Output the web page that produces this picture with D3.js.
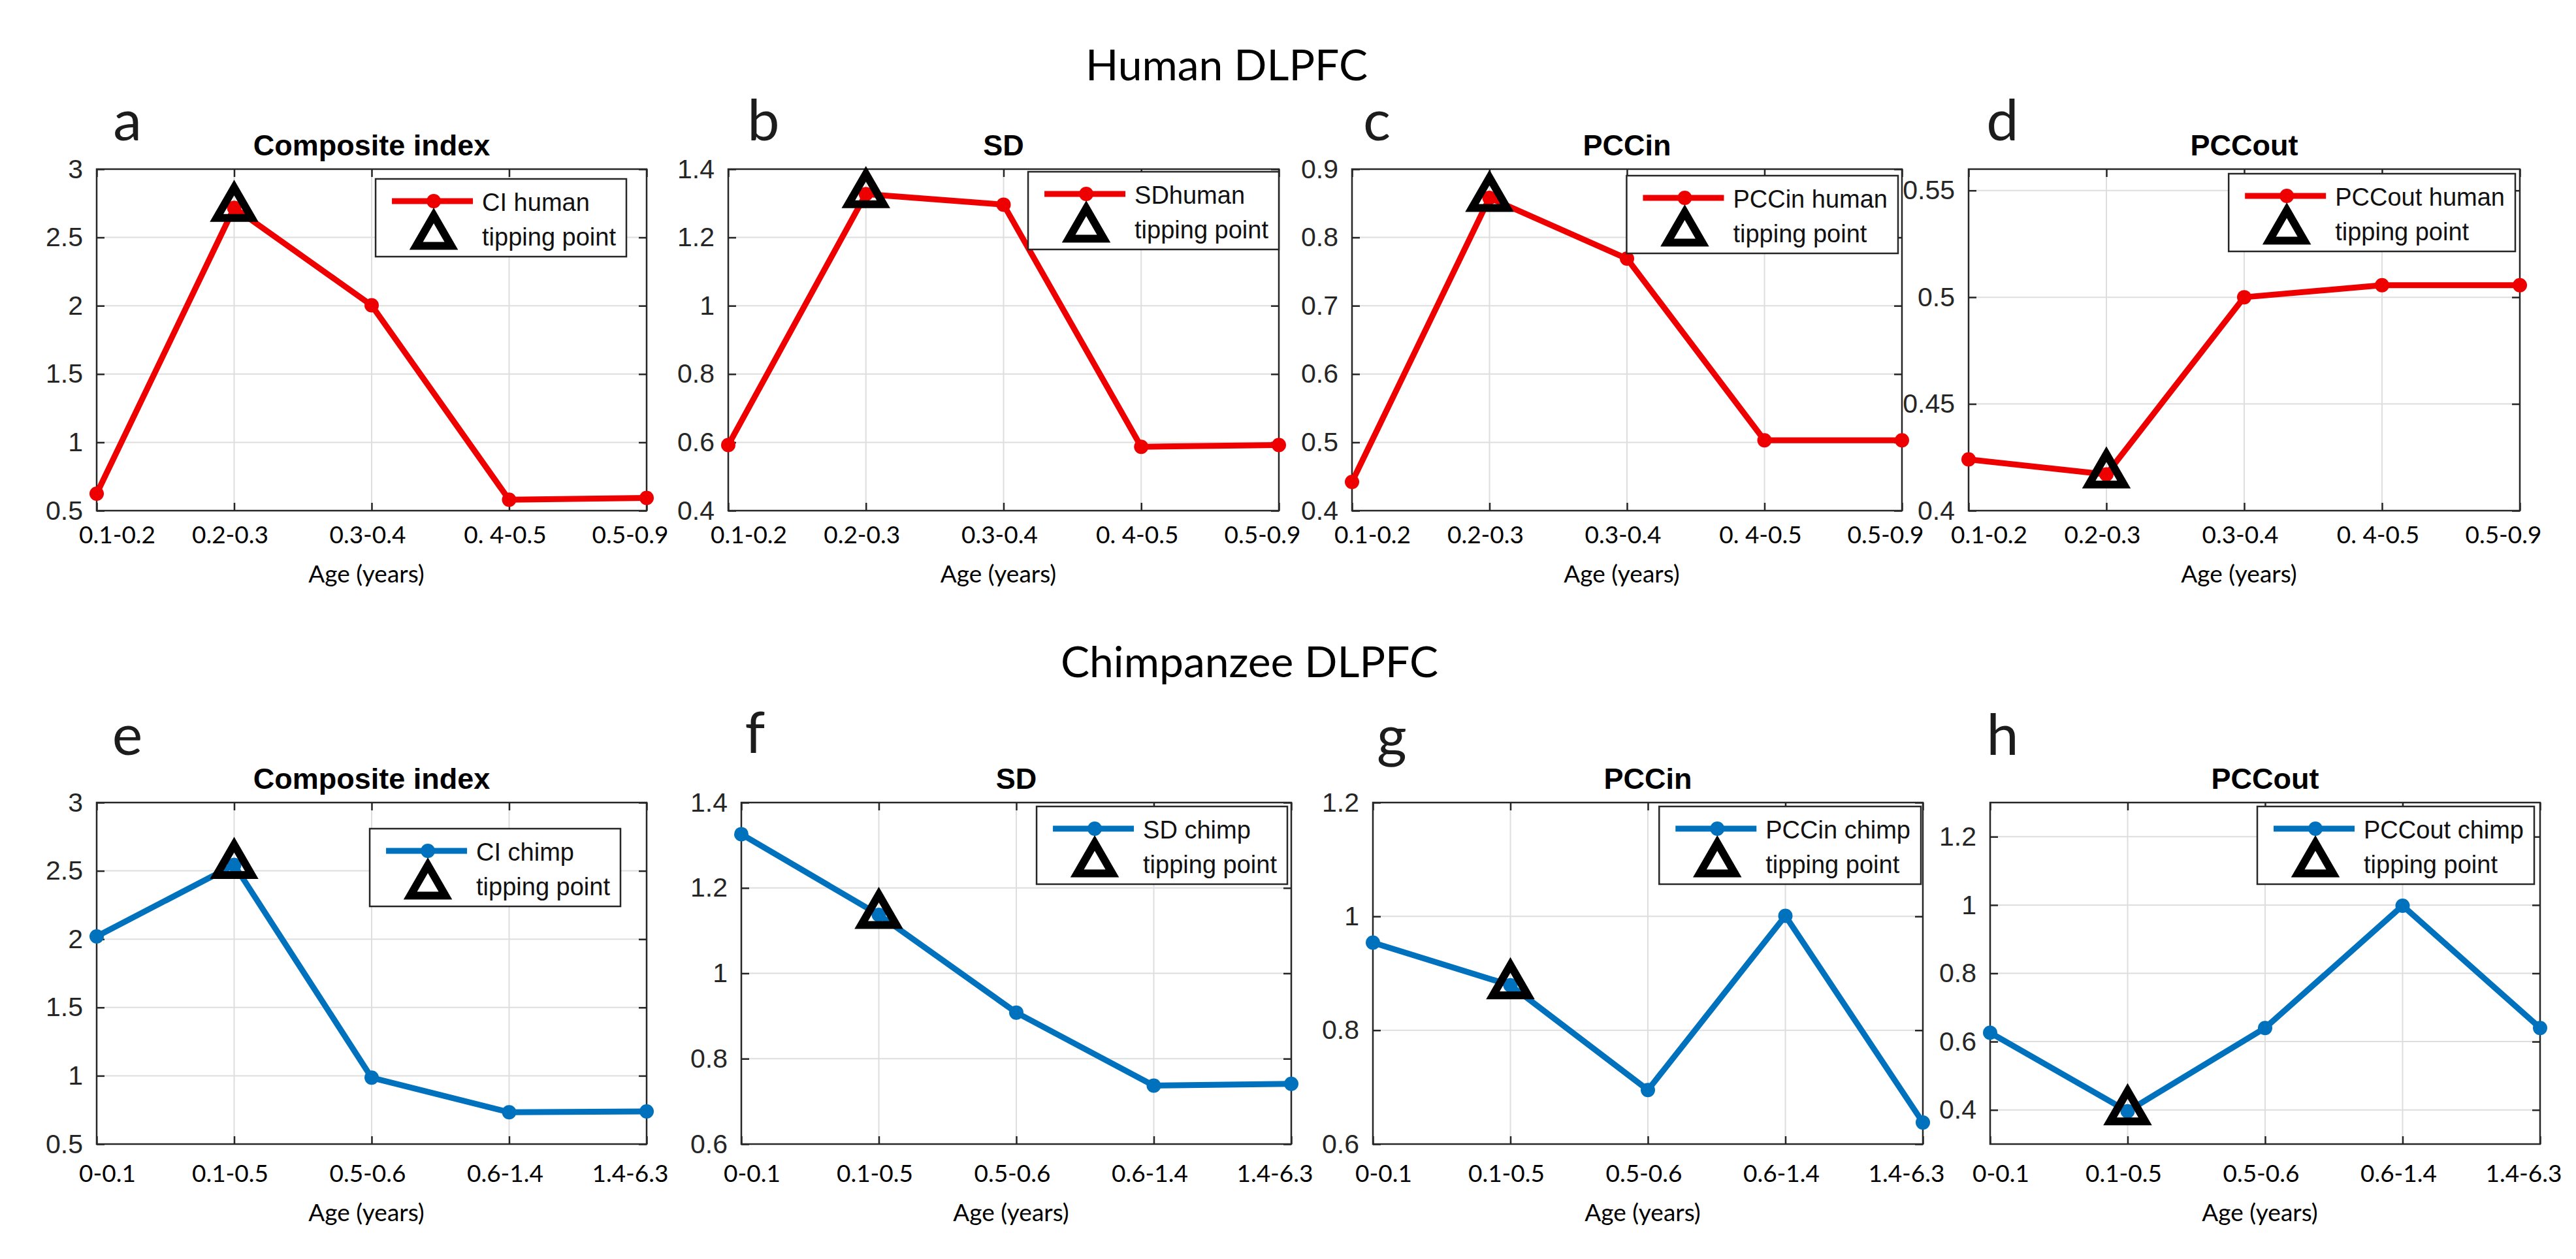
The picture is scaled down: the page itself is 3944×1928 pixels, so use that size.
<!DOCTYPE html>
<html>
<head>
<meta charset="utf-8">
<script src="https://cdn.jsdelivr.net/npm/d3@7"></script>
<style>
body { margin: 0; background: #fff; }
</style>
</head>
<body>
<script>

// age groups on the x axes
var humanAges = ["0.1-0.2", "0.2-0.3", "0.3-0.4", "0. 4-0.5", "0.5-0.9"];
var chimpAges = ["0-0.1", "0.1-0.5", "0.5-0.6", "0.6-1.4", "1.4-6.3"];

// values, one array per panel
var ciHuman = [0.624, 2.717, 2.003, 0.580, 0.593];
var sdHuman = [0.592, 1.327, 1.296, 0.587, 0.592];
var pccinHuman = [0.442, 0.858, 0.769, 0.503, 0.503];
var pccoutHuman = [0.424, 0.417, 0.500, 0.5056, 0.5056];
var ciChimp = [2.020, 2.544, 0.986, 0.733, 0.739];
var sdChimp = [1.326, 1.137, 0.908, 0.737, 0.741];
var pccinChimp = [0.954, 0.879, 0.695, 1.001, 0.638];
var pccoutChimp = [0.626, 0.396, 0.640, 0.998, 0.640];

// the tipping point is the second age group in every panel
var tippingIndex = [1, 1, 1, 1, 1, 1, 1, 1];

var panelLetters = ["a", "b", "c", "d", "e", "f", "g", "h"];
var panelTitles = ["Composite index", "SD", "PCCin", "PCCout", "Composite index", "SD", "PCCin", "PCCout"];
var legendNames = ["CI human", "SDhuman", "PCCin human", "PCCout human", "CI chimp", "SD chimp", "PCCin chimp", "PCCout chimp"];
var yDomains = [[0.5, 3], [0.4, 1.4], [0.4, 0.9], [0.4, 0.56], [0.5, 3], [0.6, 1.4], [0.6, 1.2], [0.3, 1.3]];
var yTicks = [
  [0.5, 1, 1.5, 2, 2.5, 3],
  [0.4, 0.6, 0.8, 1, 1.2, 1.4],
  [0.4, 0.5, 0.6, 0.7, 0.8, 0.9],
  [0.4, 0.45, 0.5, 0.55],
  [0.5, 1, 1.5, 2, 2.5, 3],
  [0.6, 0.8, 1, 1.2, 1.4],
  [0.6, 0.8, 1, 1.2],
  [0.4, 0.6, 0.8, 1, 1.2]
];

var rowHeadings = ["Human DLPFC", "Chimpanzee DLPFC"];

var red = "#ee0000";
var blue = "#0072bd";

// where each panel sits on the page
var layout = [
  {left: 148,  right: 990,  top: 259,  bottom: 782,  lx: 195,  ly: 215,  legR: 31, legT: 15},
  {left: 1115, right: 1958, top: 259,  bottom: 782,  lx: 1169, ly: 215,  legR: 0,  legT: 4},
  {left: 2070, right: 2912, top: 259,  bottom: 782,  lx: 2108, ly: 215,  legR: 6,  legT: 10},
  {left: 3014, right: 3858, top: 259,  bottom: 782,  lx: 3066, ly: 215,  legR: 7,  legT: 7},
  {left: 148,  right: 990,  top: 1229, bottom: 1752, lx: 195,  ly: 1156, legR: 40, legT: 40},
  {left: 1135, right: 1977, top: 1229, bottom: 1752, lx: 1156, ly: 1153, legR: 6,  legT: 6},
  {left: 2102, right: 2944, top: 1229, bottom: 1752, lx: 2131, ly: 1158, legR: 3,  legT: 6},
  {left: 3047, right: 3889, top: 1229, bottom: 1752, lx: 3066, ly: 1156, legR: 9,  legT: 6}
];

window.onload = drawAll

function drawAll()
{
  var svg = d3.select("body").append("svg")
              .attr("width", 3944)
              .attr("height", 1928)
              .style("background", "#fff");

  // big headings above each row
  svg.append("text").attr("x", 1878).attr("y", 123)
     .attr("text-anchor", "middle")
     .style("font-family", "Lato, 'Open Sans', sans-serif")
     .style("font-size", "66px")
     .text(rowHeadings[0]);
  svg.append("text").attr("x", 1913).attr("y", 1037)
     .attr("text-anchor", "middle")
     .style("font-family", "Lato, 'Open Sans', sans-serif")
     .style("font-size", "66px")
     .text(rowHeadings[1]);

  var series = [ciHuman, sdHuman, pccinHuman, pccoutHuman, ciChimp, sdChimp, pccinChimp, pccoutChimp];

  for (var i = 0; i < 8; i++)
  {
    var ages = i < 4 ? humanAges : chimpAges;
    var color = i < 4 ? red : blue;
    drawPanel(svg, i, ages, series[i], color);
  }
}

function drawPanel(svg, i, ages, values, color)
{
  var box = layout[i];
  var w = box.right - box.left;
  var g = svg.append("g");

  var x = d3.scalePoint().domain(ages).range([box.left, box.right]).padding(0);
  var y = d3.scaleLinear().domain(yDomains[i]).range([box.bottom, box.top]);
  var fmt = function(d) { return String(+d.toFixed(2)); };

  // grid
  g.append("g").selectAll("line").data(yTicks[i]).enter().append("line")
   .attr("x1", box.left).attr("x2", box.right)
   .attr("y1", function(d) { return y(d); }).attr("y2", function(d) { return y(d); })
   .attr("stroke", "#dedede").attr("stroke-width", 2);
  g.append("g").selectAll("line").data(ages).enter().append("line")
   .attr("y1", box.top).attr("y2", box.bottom)
   .attr("x1", function(d) { return x(d); }).attr("x2", function(d) { return x(d); })
   .attr("stroke", "#dedede").attr("stroke-width", 2);

  // inward ticks on all four sides
  var tick = 12;
  var sides = [
    [d3.axisLeft(y).tickValues(yTicks[i]), box.left, 0],
    [d3.axisRight(y).tickValues(yTicks[i]), box.right, 0],
    [d3.axisBottom(x), 0, box.bottom],
    [d3.axisTop(x), 0, box.top]
  ];
  sides.forEach(function(s)
  {
    var a = g.append("g").attr("transform", "translate(" + s[1] + "," + s[2] + ")")
             .call(s[0].tickSize(-tick).tickFormat(""));
    a.select(".domain").remove();
    a.selectAll("line").attr("stroke", "#262626").attr("stroke-width", 2.5);
  });

  // y tick labels
  var yl = g.append("g").attr("transform", "translate(" + box.left + ",0)")
            .call(d3.axisLeft(y).tickValues(yTicks[i]).tickSize(0).tickPadding(21).tickFormat(fmt));
  yl.select(".domain").remove();
  yl.selectAll("text")
    .style("font-family", "'Liberation Sans', Arial, sans-serif")
    .style("font-size", "41px")
    .attr("fill", "#262626");

  // x tick labels (pasted in the original, so slightly off the ticks)
  var labelY = box.bottom + (i < 4 ? 50 : 58);
  g.append("g").selectAll("text").data(ages).enter().append("text")
   .attr("x", function(d, k)
   {
     if (k === 0) return x(d) - 27;
     if (k === ages.length - 1) return x(d) - 25;
     return x(d) - 6;
   })
   .attr("y", labelY)
   .attr("text-anchor", function(d, k) { return k === 0 ? "start" : "middle"; })
   .style("font-family", "Lato, 'Open Sans', sans-serif")
   .style("font-size", "37px")
   .attr("fill", "#000")
   .text(function(d) { return d; });

  // axis title
  g.append("text")
   .attr("x", (box.left + box.right) / 2 - 8)
   .attr("y", box.bottom + (i < 4 ? 110 : 118))
   .attr("text-anchor", "middle")
   .style("font-family", "Lato, 'Open Sans', sans-serif")
   .style("font-size", "37px")
   .text("Age (years)");

  // box around the axes
  g.append("rect")
   .attr("x", box.left).attr("y", box.top)
   .attr("width", w).attr("height", box.bottom - box.top)
   .attr("fill", "none").attr("stroke", "#262626").attr("stroke-width", 2.5);

  // panel title
  g.append("text")
   .attr("x", (box.left + box.right) / 2).attr("y", box.top - 21)
   .attr("text-anchor", "middle")
   .style("font-family", "'Liberation Sans', Arial, sans-serif")
   .style("font-weight", "bold")
   .style("font-size", "45px")
   .text(panelTitles[i]);

  // panel letter
  g.append("text")
   .attr("x", box.lx).attr("y", box.ly)
   .attr("text-anchor", "middle")
   .style("font-family", "Lato, 'Open Sans', sans-serif")
   .style("font-size", "88px")
   .attr("fill", "#1c1c1c")
   .text(panelLetters[i]);

  // the series
  var line = d3.line()
               .x(function(d, k) { return x(ages[k]); })
               .y(function(d) { return y(d); });
  g.append("path").datum(values)
   .attr("d", line)
   .attr("fill", "none").attr("stroke", color)
   .attr("stroke-width", 9).attr("stroke-linejoin", "round");
  g.append("g").selectAll("circle").data(values).enter().append("circle")
   .attr("cx", function(d, k) { return x(ages[k]); })
   .attr("cy", function(d) { return y(d); })
   .attr("r", 11)
   .attr("fill", color);

  // tipping point marker
  var tri = d3.symbol().type(d3.symbolTriangle).size(1250);
  var t = tippingIndex[i];
  g.append("path")
   .attr("d", tri)
   .attr("transform", "translate(" + x(ages[t]) + "," + y(values[t]) + ")")
   .attr("fill", "none").attr("stroke", "#000")
   .attr("stroke-width", 12).attr("stroke-linejoin", "miter");

  drawLegend(g, i, color, tri);
}

function drawLegend(g, i, color, tri)
{
  var box = layout[i];
  var leg = g.append("g");
  var rect = leg.append("rect")
                .attr("fill", "#fff").attr("stroke", "#262626").attr("stroke-width", 2.5);

  var t1 = leg.append("text").attr("x", 163).attr("y", 49)
              .style("font-family", "'Liberation Sans', Arial, sans-serif")
              .style("font-size", "38px")
              .attr("fill", "#111")
              .text(legendNames[i]);
  var t2 = leg.append("text").attr("x", 163).attr("y", 102)
              .style("font-family", "'Liberation Sans', Arial, sans-serif")
              .style("font-size", "38px")
              .attr("fill", "#111")
              .text("tipping point");

  var tw = Math.max(t1.node().getComputedTextLength(), t2.node().getComputedTextLength());
  var lw = 163 + tw + 16;
  var lh = 119;
  rect.attr("width", lw).attr("height", lh);

  leg.append("line").attr("x1", 25).attr("x2", 149).attr("y1", 34).attr("y2", 34)
     .attr("stroke", color).attr("stroke-width", 9);
  leg.append("circle").attr("cx", 89).attr("cy", 34).attr("r", 11).attr("fill", color);
  leg.append("path").attr("d", tri)
     .attr("transform", "translate(89,87)")
     .attr("fill", "none").attr("stroke", "#000")
     .attr("stroke-width", 12).attr("stroke-linejoin", "miter");

  leg.attr("transform", "translate(" + (box.right - box.legR - lw) + "," + (box.top + box.legT) + ")");
}

</script>
</body>
</html>
